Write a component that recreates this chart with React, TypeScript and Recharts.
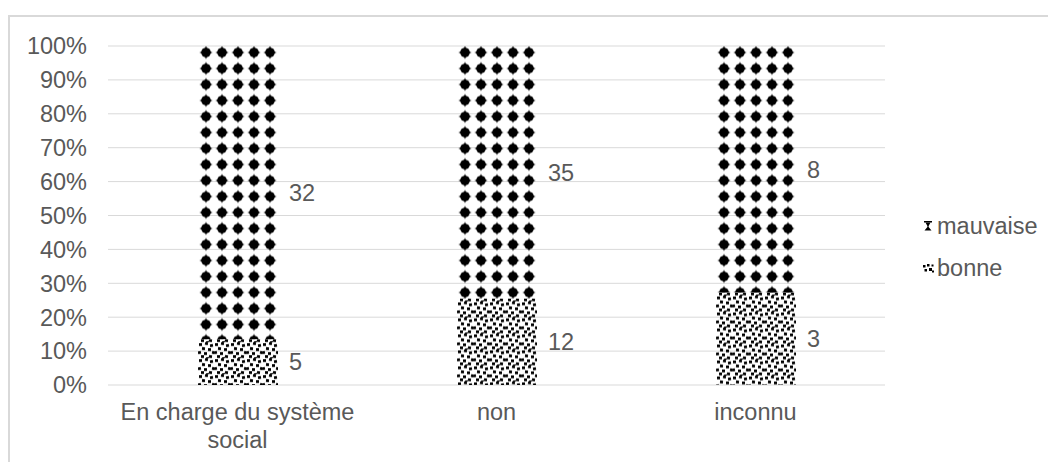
import React from "react";
import { BarChart, Bar, XAxis, YAxis, CartesianGrid, LabelList } from "recharts";

const categories = ["En charge du système social", "non", "inconnu"];
const bonneValues = [5, 12, 3];
const mauvaiseValues = [32, 35, 8];
const yTicks = [0, 0.1, 0.2, 0.3, 0.4, 0.5, 0.6, 0.7, 0.8, 0.9, 1];
const seriesNames = { mauvaise: "mauvaise", bonne: "bonne" };

const data = categories.map((c, i) => ({
  name: c,
  bonne: bonneValues[i],
  mauvaise: mauvaiseValues[i],
}));

const FONT = "'Liberation Sans', Arial, sans-serif";
const TEXT = "#595959";
const GRID = "#d9d9d9";
const FS = 23.5;

const bonneSquares: [number, number, number][] = [
  [1, 1, 0], [7, 0, 10], [12, 2, -8], [4, 5, 6], [10, 6, 0], [14, 9, 12],
  [0, 9, -10], [6, 10, 0], [11, 13, 8], [3, 13, 0], [8, 15, -6],
];

function measure(text: string): number {
  if (typeof document === "undefined") return text.length * FS * 0.55;
  const c = document.createElement("canvas");
  const ctx = c.getContext("2d");
  if (!ctx) return text.length * FS * 0.55;
  ctx.font = `${FS}px ${FONT}`;
  return ctx.measureText(text).width;
}

function wrap(text: string, maxWidth: number): string[] {
  const words = text.split(" ");
  const lines: string[] = [];
  let cur = "";
  for (const w of words) {
    const t = cur ? cur + " " + w : w;
    if (cur && measure(t) > maxWidth) {
      lines.push(cur);
      cur = w;
    } else cur = t;
  }
  if (cur) lines.push(cur);
  return lines;
}

const MauvaiseShape = (props: any) => {
  const { x, y, width, height, index } = props;
  if (!width || !height) return null;
  const id = `patMauvaise-${index}`;
  return (
    <g>
      <defs>
        <pattern id={id} patternUnits="userSpaceOnUse" x={x} y={y - 1.5} width={16} height={16}>
          <circle cx={8} cy={8} r={4.8} fill="#000" />
          <path d="M8,1.3 L10.6,8 L8,14.7 L5.4,8 Z" fill="#000" />
          <path d="M1.3,8 L8,5.4 L14.7,8 L8,10.6 Z" fill="#000" />
        </pattern>
      </defs>
      <rect x={x} y={y} width={width} height={height} fill={`url(#${id})`} />
    </g>
  );
};

const BonneShape = (props: any) => {
  const { x, y, width, height, index } = props;
  if (!width || !height) return null;
  const id = `patBonne-${index}`;
  return (
    <g>
      <defs>
        <pattern id={id} patternUnits="userSpaceOnUse" x={x} y={y + 3} width={16} height={16}>
          {bonneSquares.map(([sx, sy, r], i) => (
            <rect key={i} x={sx} y={sy} width={3} height={2.8} fill="#000"
              transform={`rotate(${r} ${sx + 1.5} ${sy + 1.4})`} />
          ))}
        </pattern>
      </defs>
      <rect x={x} y={y} width={width} height={height} fill={`url(#${id})`} />
    </g>
  );
};

const CategoryTick = (props: any) => {
  const { x, y, payload } = props;
  const lines = wrap(String(payload.value), 250);
  return (
    <text x={x} y={y + 35} textAnchor="middle" fill={TEXT} fontSize={FS} fontFamily={FONT}>
      {lines.map((l, i) => (
        <tspan key={i} x={x} dy={i === 0 ? 0 : 28}>
          {l}
        </tspan>
      ))}
    </text>
  );
};

export default function App() {
  return (
    <div style={{ position: "relative", width: 1048, height: 454, fontFamily: FONT, overflow: "hidden" }}>
      <div
        style={{
          position: "absolute",
          left: 0,
          top: 7,
          width: 1100,
          height: 500,
          borderLeft: `2px solid ${GRID}`,
          borderTop: `2px solid ${GRID}`,
          boxSizing: "border-box",
        }}
      />
      <div style={{ position: "absolute", left: 0, top: 0 }}>
        <BarChart
          width={1048}
          height={454}
          data={data}
          stackOffset="expand"
          margin={{ top: 38, right: 171, bottom: 0, left: 0 }}
          barSize={80}
        >
          <CartesianGrid vertical={false} stroke={GRID} strokeWidth={1} />
          <XAxis
            dataKey="name"
            axisLine={false}
            tickLine={false}
            tickSize={0}
            tickMargin={0}
            height={77}
            interval={0}
            tick={<CategoryTick />}
          />
          <YAxis
            type="number"
            domain={[0, 1]}
            ticks={yTicks}
            width={100}
            axisLine={false}
            tickLine={false}
            tickSize={0}
            tickMargin={21}
            interval={0}
            tickFormatter={(v: number) => `${Math.round(v * 100)}%`}
            tick={{ fill: TEXT, fontSize: FS, fontFamily: FONT }}
          />
          <Bar dataKey="bonne" stackId="s" fill="#000" shape={<BonneShape />} isAnimationActive={false}>
            <LabelList dataKey="bonne" position="right" offset={11} fill={TEXT} fontSize={FS} fontFamily={FONT} />
          </Bar>
          <Bar dataKey="mauvaise" stackId="s" fill="#000" shape={<MauvaiseShape />} isAnimationActive={false}>
            <LabelList dataKey="mauvaise" position="right" offset={11} fill={TEXT} fontSize={FS} fontFamily={FONT} />
          </Bar>
        </BarChart>
      </div>
      <div style={{ position: "absolute", left: 915, top: 204, color: TEXT, fontSize: FS, lineHeight: "28px" }}>
        <div style={{ display: "flex", alignItems: "center", height: 28 }}>
          <svg width={12} height={14} style={{ marginRight: 2 }}>
            <rect x={1} y={2} width={8} height={1.5} fill="#000" />
            <path d="M2.5,3.5 L7.5,3.5 L5.6,7 L5.6,8 L8.5,11.5 L1.5,11.5 L4.4,8 L4.4,7 Z" fill="#000" />
          </svg>
          <span>{seriesNames.mauvaise}</span>
        </div>
        <div style={{ display: "flex", alignItems: "center", height: 28, marginTop: 14 }}>
          <svg width={12} height={14} style={{ marginRight: 2 }}>
            <rect x={0} y={4} width={2.5} height={2.5} fill="#000" />
            <rect x={4} y={3} width={2.5} height={2.5} fill="#000" />
            <rect x={1.5} y={8} width={2.5} height={2.5} fill="#000" />
            <rect x={6} y={7} width={3} height={3} fill="#000" />
            <rect x={8.5} y={3.5} width={2} height={2} fill="#000" />
            <rect x={9} y={9.5} width={2} height={2} fill="#000" />
          </svg>
          <span>{seriesNames.bonne}</span>
        </div>
      </div>
    </div>
  );
}
